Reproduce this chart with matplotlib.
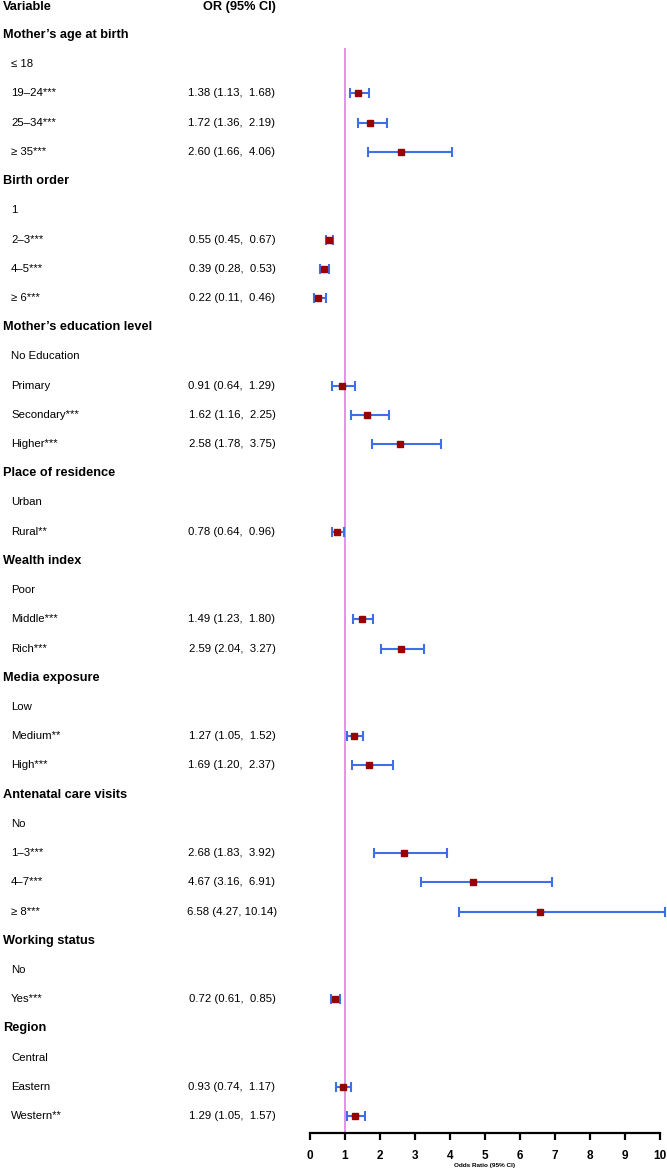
import matplotlib
matplotlib.use("Agg")
import matplotlib.pyplot as plt
import matplotlib.transforms as mtransforms
import numpy as np

plt.rcParams['font.family'] = ['Liberation Sans', 'DejaVu Sans']

nan = np.nan

groups = ["Mother’s age at birth", "Birth order", "Mother’s education level",
          "Place of residence", "Wealth index", "Media exposure",
          "Antenatal care visits", "Working status", "Region"]

levels = [["≤ 18", "19–24***", "25–34***", "≥ 35***"],
          ["1", "2–3***", "4–5***", "≥ 6***"],
          ["No Education", "Primary", "Secondary***", "Higher***"],
          ["Urban", "Rural**"],
          ["Poor", "Middle***", "Rich***"],
          ["Low", "Medium**", "High***"],
          ["No", "1–3***", "4–7***", "≥ 8***"],
          ["No", "Yes***"],
          ["Central", "Eastern", "Western**"]]

odds = [[nan, 1.38, 1.72, 2.60],
        [nan, 0.55, 0.39, 0.22],
        [nan, 0.91, 1.62, 2.58],
        [nan, 0.78],
        [nan, 1.49, 2.59],
        [nan, 1.27, 1.69],
        [nan, 2.68, 4.67, 6.58],
        [nan, 0.72],
        [nan, 0.93, 1.29]]

lower = [[nan, 1.13, 1.36, 1.66],
         [nan, 0.45, 0.28, 0.11],
         [nan, 0.64, 1.16, 1.78],
         [nan, 0.64],
         [nan, 1.23, 2.04],
         [nan, 1.05, 1.20],
         [nan, 1.83, 3.16, 4.27],
         [nan, 0.61],
         [nan, 0.74, 1.05]]

upper = [[nan, 1.68, 2.19, 4.06],
         [nan, 0.67, 0.53, 0.46],
         [nan, 1.29, 2.25, 3.75],
         [nan, 0.96],
         [nan, 1.80, 3.27],
         [nan, 1.52, 2.37],
         [nan, 3.92, 6.91, 10.14],
         [nan, 0.85],
         [nan, 1.17, 1.57]]

W, H = 667, 1172
fig = plt.figure(figsize=(W / 100, H / 100), dpi=100)
ax = fig.add_axes([310 / W, (H - 1133) / H, 350 / W, (1133 - 48) / H])

# build row table
rows_y, rows_or, rows_lo, rows_hi = [], [], [], []
trans = mtransforms.blended_transform_factory(fig.transFigure, ax.transData)
r = 1
for g, lv, o, lo, hi in zip(groups, levels, odds, lower, upper):
    ax.text(3 / W, r, g, transform=trans, fontsize=9.2, fontweight='bold',
            va='center', ha='left')
    r += 1
    for name, ov, lov, hiv in zip(lv, o, lo, hi):
        ax.text(11 / W, r, name, transform=trans, fontsize=8.2, va='center', ha='left')
        if not np.isnan(ov):
            ax.text(232 / W, r, "%.2f (%.2f, %5.2f)" % (ov, lov, hiv), transform=trans,
                    fontsize=8.2, va='center', ha='center')
            rows_y.append(r)
            rows_or.append(ov)
            rows_lo.append(lov)
            rows_hi.append(hiv)
        r += 1

ax.text(3 / W, 0.05, "Variable", transform=trans, fontsize=9.2, fontweight='bold',
        va='center', ha='left')
ax.text(203 / W, 0.05, "OR (95% CI)", transform=trans, fontsize=9.2, fontweight='bold',
        va='center', ha='left')

ax.axvline(1, color='#E47BE4', lw=1.2, zorder=1)

rows_or = np.array(rows_or)
xerr = [rows_or - np.array(rows_lo), np.array(rows_hi) - rows_or]
eb = ax.errorbar(rows_or, rows_y, xerr=xerr, fmt='s', color='#990000', ms=4,
                 ecolor='#3E6FE6', elinewidth=1.5, capsize=3.6, capthick=1.5,
                 zorder=3)
for art in eb.lines[1] + eb.lines[2]:
    art.set_clip_on(False)
eb.lines[0].set_clip_on(False)

ax.set_xlim(0, 10)
ax.set_ylim(38.58, (48 - 35) / 29.2 + 1)
ax.set_yticks([])
for s in ['top', 'right', 'left']:
    ax.spines[s].set_visible(False)
ax.spines['bottom'].set_linewidth(1.6)
ax.set_xticks(range(0, 11))
ax.tick_params(axis='x', length=5, width=1.6, pad=7, labelsize=8.5)
for lab in ax.get_xticklabels():
    lab.set_fontweight('bold')
ax.set_xlabel("Odds Ratio (95% CI)", fontsize=4.6, fontweight='bold', labelpad=1)

fig.savefig("out.png", dpi=100)
